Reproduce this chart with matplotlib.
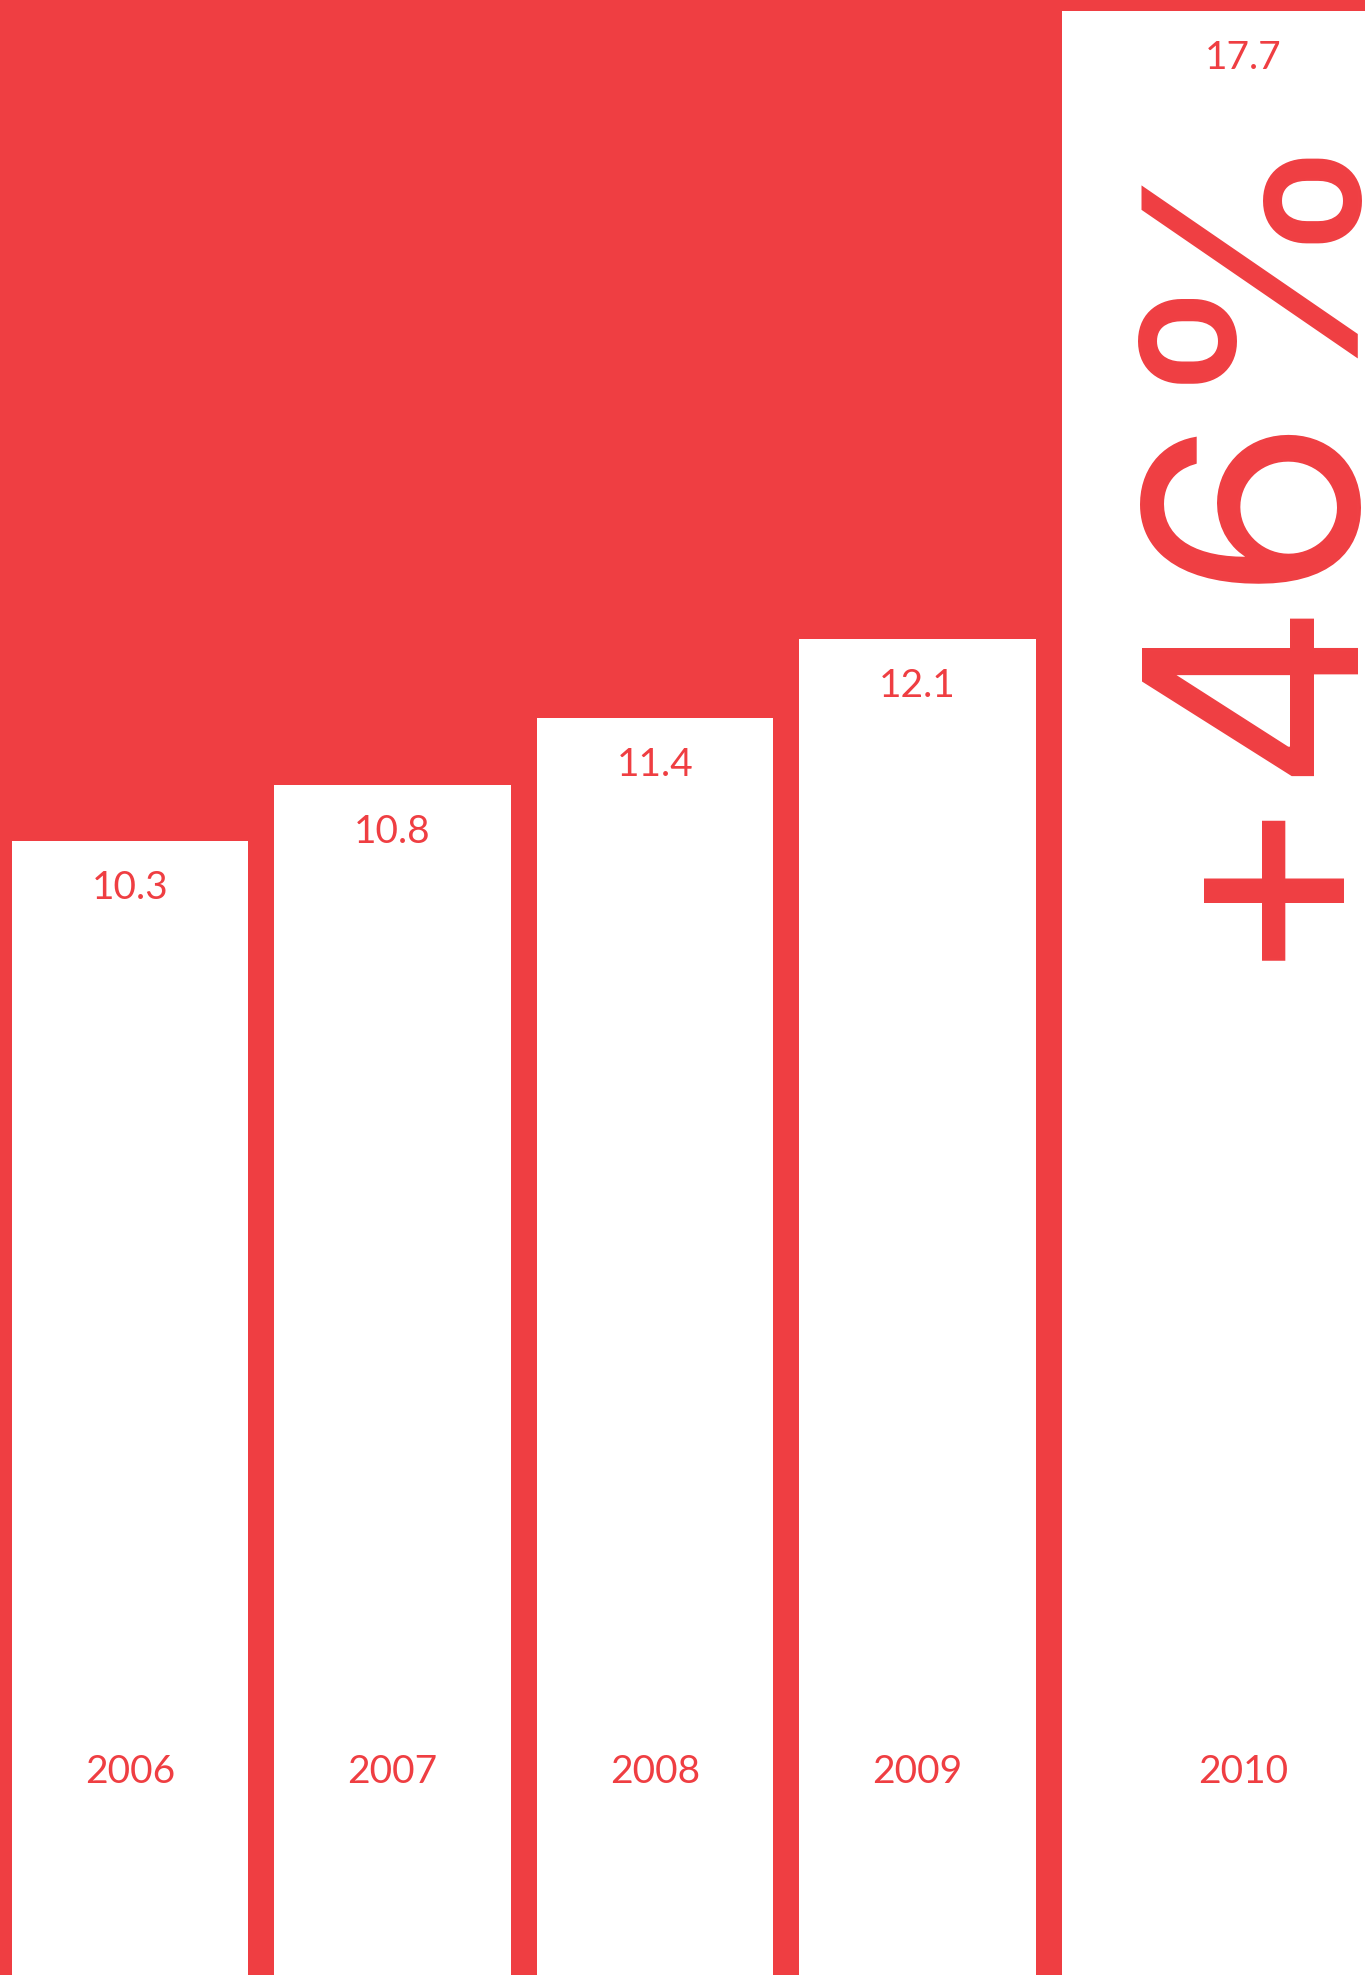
import numpy as np
import matplotlib
matplotlib.use("Agg")
import matplotlib.pyplot as plt

# Annual figures
years = ["2006", "2007", "2008", "2009", "2010"]
values = [10.3, 10.8, 11.4, 12.1, 17.7]

RED = "#EF3E42"
WHITE = "#FFFFFF"

plt.rcParams["font.family"] = ["Lato", "DejaVu Sans"]

W, H, DPI = 1365, 1975, 100
fig = plt.figure(figsize=(W / DPI, H / DPI), dpi=DPI)
fig.patch.set_facecolor(RED)
ax = fig.add_axes([0, 0, 1, 1])
ax.set_facecolor(RED)
ax.set_axis_off()

n = len(values)
centers = np.arange(n, dtype=float)
widths = np.full(n, 0.9)
# the final bar starts where a regular bar would and runs off the right edge
last_left = centers[-1] - widths[-1] / 2
widths[-1] = 1.38
centers[-1] = last_left + widths[-1] / 2

ax.bar(centers, values, width=widths, color=WHITE, edgecolor="none", zorder=2)

ax.set_xlim(-0.495, 4.705)
ax.set_ylim(0.196, 17.798)

for xc, v, yr in zip(centers, values, years):
    ax.annotate(f"{v:.1f}", xy=(xc, v), xytext=(0, -58), textcoords="offset pixels",
                ha="center", va="baseline", color=RED, fontsize=28, zorder=3)
    ax.text(xc, 0.0972, yr, transform=ax.get_xaxis_transform(),
            ha="center", va="baseline", color=RED, fontsize=28, zorder=3)

# growth over the previous year, set vertically in the last bar
growth = round((values[-1] / values[-2] - 1) * 100)
ax.text(4.573, 13.10, f"+{growth}%", rotation=90, rotation_mode="anchor",
        ha="center", va="baseline", color=RED, fontsize=214,
        family=["Inter", "DejaVu Sans"], zorder=3)

fig.savefig("out.png", dpi=DPI, facecolor=RED)
